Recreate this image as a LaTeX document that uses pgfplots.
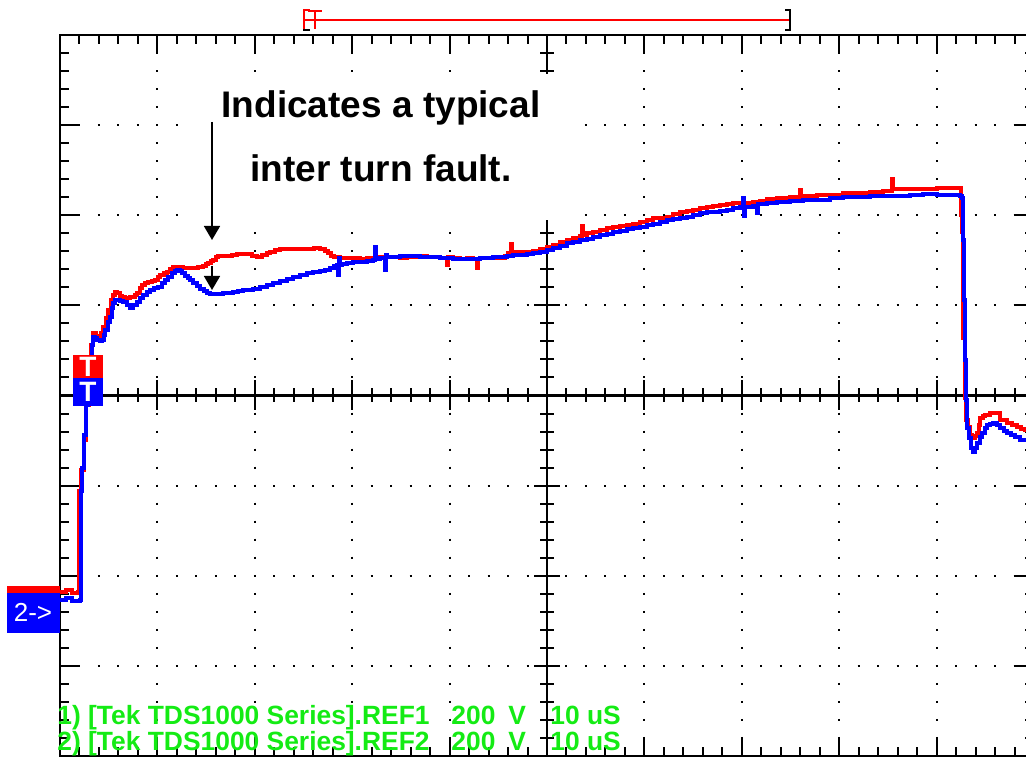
\documentclass[border=0pt]{standalone}
\usepackage{pgfplots}
\pgfplotsset{compat=1.18}
\usepackage{pgfplotstable}
\usepackage{fontspec}
\setmainfont{Liberation Sans}
\usetikzlibrary{arrows.meta}
\definecolor{scred}{RGB}{255,0,0}
\definecolor{scblue}{RGB}{0,0,255}
\definecolor{scgreen}{RGB}{20,235,20}

\begin{document}
% pixel coordinates of the screen: x to the right, y downwards
\pgfplotstableread{
x y
60 592
66 590
72 593
78 592
79 491
81 470
84 440
86 405
89 370
91 345
93 333
96 336
98 337
101 333
103 327
106 318
108 310
111 300
113 295
115 292
117 293
120 296
122 297
125 298
127 298
130 297
132 297
135 295
137 293
140 288
142 285
145 283
148 282
152 281
155 280
158 277
160 275
164 273
167 272
170 269
173 267
178 267
183 268
188 268
193 268
198 267
203 266
206 264
208 263
211 261
213 260
216 257
218 256
223 256
227 256
232 255
237 254
242 254
247 254
252 256
257 257
262 255
267 253
270 252
275 250
280 249
290 249
300 249
307 249
314 248
320 249
325 251
328 253
331 256
334 257
340 258
347 258
353 258
360 259
367 258
373 258
380 257
387 257
393 257
400 258
407 257
413 257
420 256
427 257
433 257
440 258
447 257
447 265
448 257
453 258
460 259
467 258
473 259
477 259
477 268
478 259
480 258
487 258
493 258
500 258
505 256
508 253
511 244
512 253
513 252
520 252
527 252
533 251
540 249
547 247
553 245
560 242
567 240
573 238
580 236
582 226
583 235
587 233
593 232
600 230
607 228
613 227
620 226
627 225
633 224
640 222
647 220
653 218
660 218
667 217
673 214
680 212
687 211
693 210
700 208
707 207
713 206
720 205
727 204
733 203
740 203
747 203
753 202
760 201
767 199
777 198
790 197
800 196
800 190
801 196
803 196
817 195
830 195
843 193
857 193
870 192
883 191
892 190
892 179
893 189
897 189
910 189
923 189
937 188
950 188
958 188
961 190
961 215
962 232
963 283
963 338
965 380
965 398
966 420
968 427
970 435
972 438
975 436
977 433
979 425
980 418
983 416
985 415
990 413
997 413
1000 420
1007 423
1012 425
1017 427
1021 429
1025 432
}\redtrace
\pgfplotstableread{
x y
60 600
66 598
72 601
80 600
81 491
82 468
84 435
86 405
88 380
90 365
92 345
93 337
95 338
97 340
100 341
102 340
104 335
105 330
108 322
110 317
112 308
113 303
115 300
117 300
120 301
123 302
127 305
130 308
133 305
137 302
140 298
143 295
147 292
150 290
154 288
158 287
162 283
165 280
168 277
172 273
175 271
177 270
180 271
182 273
185 276
188 278
190 280
193 283
197 286
200 289
204 291
207 293
210 294
213 294
218 294
223 293
228 293
233 292
238 291
243 290
248 290
253 289
260 287
267 285
273 283
280 281
287 279
293 277
300 275
307 273
313 272
320 271
325 270
330 268
334 266
337 265
338 275
339 258
340 265
342 264
347 263
353 262
360 262
367 261
373 260
375 260
375 247
376 259
380 258
385 257
385 270
386 255
387 257
393 257
400 256
407 256
413 256
420 257
427 257
433 257
440 258
447 258
453 259
460 259
467 259
473 259
480 258
487 258
493 257
500 257
507 256
513 255
520 255
527 254
533 253
540 252
547 250
553 248
560 246
567 243
573 242
580 240
587 239
593 237
600 235
607 234
613 232
620 231
627 229
633 228
640 227
647 225
653 224
660 222
667 220
673 219
680 218
687 217
693 215
700 213
707 212
713 212
720 211
727 210
733 208
740 207
743 207
743 198
744 216
745 207
747 207
753 206
757 205
757 213
758 204
760 204
767 203
777 202
790 201
803 200
817 200
830 198
843 197
857 197
870 196
883 196
897 196
910 195
923 194
937 195
950 195
960 196
962 198
963 240
964 300
965 360
966 400
967 428
969 438
971 448
973 452
975 448
977 443
980 437
982 433
985 428
987 425
990 424
993 423
997 425
1000 428
1004 431
1007 433
1011 435
1015 437
1020 440
1025 442
}\bluetrace
\begin{tikzpicture}
\useasboundingbox (0,0) rectangle (513pt,379pt);
\clip (0,0) rectangle (513pt,379pt);
% centre cross of the screen
\begin{scope}[x=0.5pt,y=-0.5pt,yshift=379pt]
  \draw[line width=1.2pt] (60,395.5) -- (1034,395.5);
  \draw[line width=1.2pt] (547,35) -- (547,756);
  \foreach \i in {1,...,49} {\draw[line width=1pt] ({60+19.48*\i},388.5) -- ++(0,14);}
  \foreach \i in {1,...,9} {\draw[line width=1pt] ({60+97.4*\i},380.5) -- ++(0,30);}
  \foreach \j in {1,...,39} {\draw[line width=1pt] (540,{35+18.025*\j}) -- ++(14,0);}
  \foreach \j in {1,...,7} {\draw[line width=1pt] (534,{35+90.125*\j}) -- ++(26,0);}
\end{scope}
\begin{axis}[
  at={(30pt,1pt)}, anchor=south west,
  width=487pt, height=360.5pt, scale only axis,
  xmin=60, xmax=1034, ymin=35, ymax=756, y dir=reverse,
  xtick={60,157.4,254.8,352.2,449.6,547,644.4,741.8,839.2,936.6,1034},
  ytick={35,125.125,215.25,305.375,395.5,485.625,575.75,665.875,756},
  minor x tick num=4, minor y tick num=4,
  xticklabels={}, yticklabels={},
  tick pos=both,
  tick align=inside,
  major tick length=9.5pt, minor tick length=4.5pt,
  tick style={black, line width=1pt},
  axis line style={line width=1.4pt},
  grid=major,
  x grid style={black, line width=1pt, dash pattern=on 1pt off 8.0125pt, dash phase=0.5pt},
  y grid style={black, line width=1pt, dash pattern=on 1pt off 8.74pt, dash phase=0.5pt},
  clip=false,
]
\addplot[scred, line width=1.6pt, const plot] table[x=x,y=y] {\redtrace};
\addplot[scblue, line width=1.6pt, const plot] table[x=x,y=y] {\bluetrace};
\end{axis}
\begin{scope}[x=0.5pt,y=-0.5pt,yshift=379pt]
  % trigger markers
  \fill[scred] (73,355) rectangle (103,383);
  \node[inner sep=0, text=white, font=\fontsize{14pt}{14pt}\selectfont\bfseries] at (88,367) {T};
  \fill[scblue] (73,378) rectangle (103,406);
  \node[inner sep=0, text=white, font=\fontsize{14pt}{14pt}\selectfont\bfseries] at (88,392) {T};
  % channel markers
  \fill[scred] (7,586) rectangle (60,626);
  \fill[scblue] (7,593) rectangle (60,633);
  \node[text=white, font=\fontsize{13pt}{13pt}\selectfont] at (33,612) {2->};
  % trigger position bar
  \draw[scred, line width=1pt] (304,20) -- (789,20);
  \draw[scred, line width=1pt] (310,10) -- (304,10) -- (304,29);
  \draw[black, line width=1pt] (304,29) -- (304,30) -- (310,30);
  \draw[scred, line width=1pt] (308,11) -- (322,11) (315,11) -- (315,29);
  \draw[black, line width=1.2pt] (785,10) -- (790,10) -- (790,30) -- (785,30);
  % annotation
  \fill[white] (185,74) rectangle (577,220);
  \node[anchor=base, inner sep=0, font=\fontsize{18.5pt}{22pt}\selectfont\bfseries] at (381,118) {Indicates a typical};
  \node[anchor=base, inner sep=0, font=\fontsize{18.5pt}{22pt}\selectfont\bfseries] at (381,182) {inter turn fault.};
  \draw[line width=0.9pt, -{Triangle[width=8pt,length=7pt]}] (212,122) -- (212,240);
  \draw[line width=0.9pt, -{Triangle[width=8pt,length=7pt]}] (212,266) -- (212,290);
  % status lines
  \foreach \yy/\n in {725/1, 751/2} {
    \node[anchor=base west, inner sep=0, text=scgreen, font=\fontsize{13.2pt}{15pt}\selectfont\bfseries] at (57,\yy) {\n) [Tek TDS1000 Series].REF\n};
    \node[anchor=base west, inner sep=0, text=scgreen, font=\fontsize{13.2pt}{15pt}\selectfont\bfseries] at (451,\yy) {200};
    \node[anchor=base west, inner sep=0, text=scgreen, font=\fontsize{13.2pt}{15pt}\selectfont\bfseries] at (508,\yy) {V};
    \node[anchor=base west, inner sep=0, text=scgreen, font=\fontsize{13.2pt}{15pt}\selectfont\bfseries] at (550,\yy) {10 uS};
  }
\end{scope}
\end{tikzpicture}
\end{document}
